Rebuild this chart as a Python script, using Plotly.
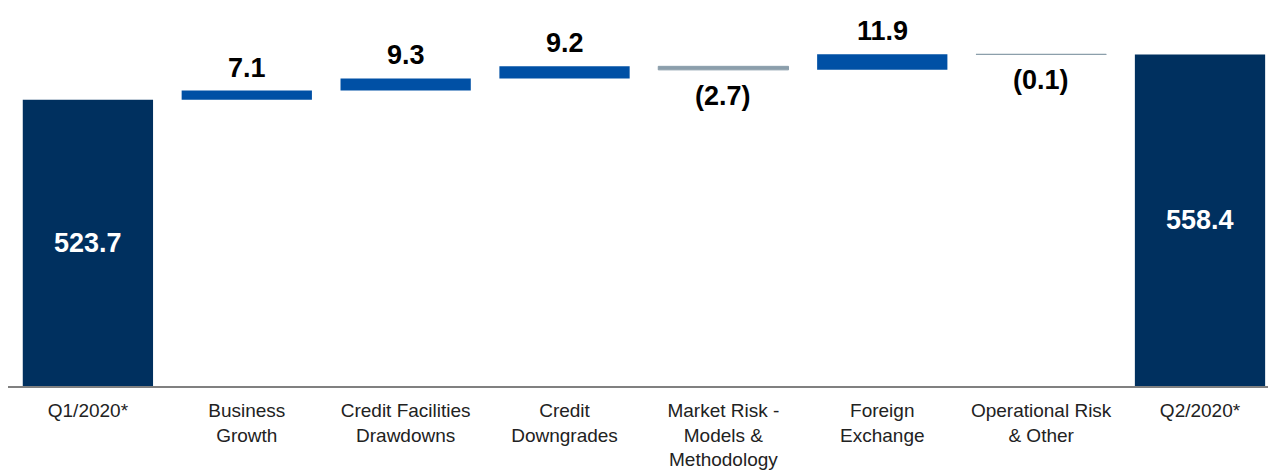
import plotly.graph_objects as go

# Bridge of risk-weighted assets between quarters
categories = [
    "Q1/2020*",
    "Business<br>Growth",
    "Credit Facilities<br>Drawdowns",
    "Credit<br>Downgrades",
    "Market Risk -<br>Models &<br>Methodology",
    "Foreign<br>Exchange",
    "Operational Risk<br>& Other",
    "Q2/2020*",
]
values = [523.7, 7.1, 9.3, 9.2, -2.7, 11.9, -0.1, 558.4]
measures = ["absolute", "relative", "relative", "relative",
            "relative", "relative", "relative", "absolute"]

Y_MIN, Y_MAX = 305, 600

NAVY = "#00305F"
BLUE = "#0050A5"
GREY = "#8B9EAB"
FONT = "Liberation Sans, Arial"


def fmt(v):
    return f"({abs(v):.1f})" if v < 0 else f"{v:.1f}"


fig = go.Figure(
    go.Waterfall(
        x=categories,
        y=values,
        measure=measures,
        textposition="none",
        width=0.82,
        connector=dict(visible=False),
        increasing=dict(marker=dict(color=BLUE)),
        decreasing=dict(marker=dict(color=GREY, line=dict(color=GREY, width=1))),
        totals=dict(marker=dict(color=NAVY)),
        hoverinfo="x+y",
    )
)

# Value labels: totals centred in the visible part of the bar,
# increases above the step, decreases below it
running = 0.0
for cat, val, meas in zip(categories, values, measures):
    if meas == "absolute":
        running = val
        fig.add_annotation(
            x=cat, y=(Y_MIN + val) / 2, text=f"<b>{fmt(val)}</b>",
            showarrow=False, yanchor="middle",
            font=dict(family=FONT, size=27, color="white"),
        )
    else:
        prev = running
        running = prev + val
        if val >= 0:
            fig.add_annotation(
                x=cat, y=running, text=f"<b>{fmt(val)}</b>",
                showarrow=False, yanchor="bottom", yshift=6,
                font=dict(family=FONT, size=27, color="black"),
            )
        else:
            fig.add_annotation(
                x=cat, y=running, text=f"<b>{fmt(val)}</b>",
                showarrow=False, yanchor="top", yshift=-9,
                font=dict(family=FONT, size=27, color="black"),
            )

fig.update_layout(
    width=1268,
    height=470,
    margin=dict(l=8, r=0, t=0, b=84),
    paper_bgcolor="white",
    plot_bgcolor="white",
    showlegend=False,
    font=dict(family=FONT, size=19, color="#222222"),
    xaxis=dict(
        range=[-0.503, 7.428],
        showgrid=False,
        showline=True,
        linecolor="#808080",
        linewidth=2,
        ticks="",
        ticklabelstandoff=6,
        tickfont=dict(family=FONT, size=19, color="#222222"),
    ),
    yaxis=dict(
        range=[Y_MIN, Y_MAX],
        visible=False,
        showgrid=False,
        zeroline=False,
    ),
)

fig.write_html("out.html")
